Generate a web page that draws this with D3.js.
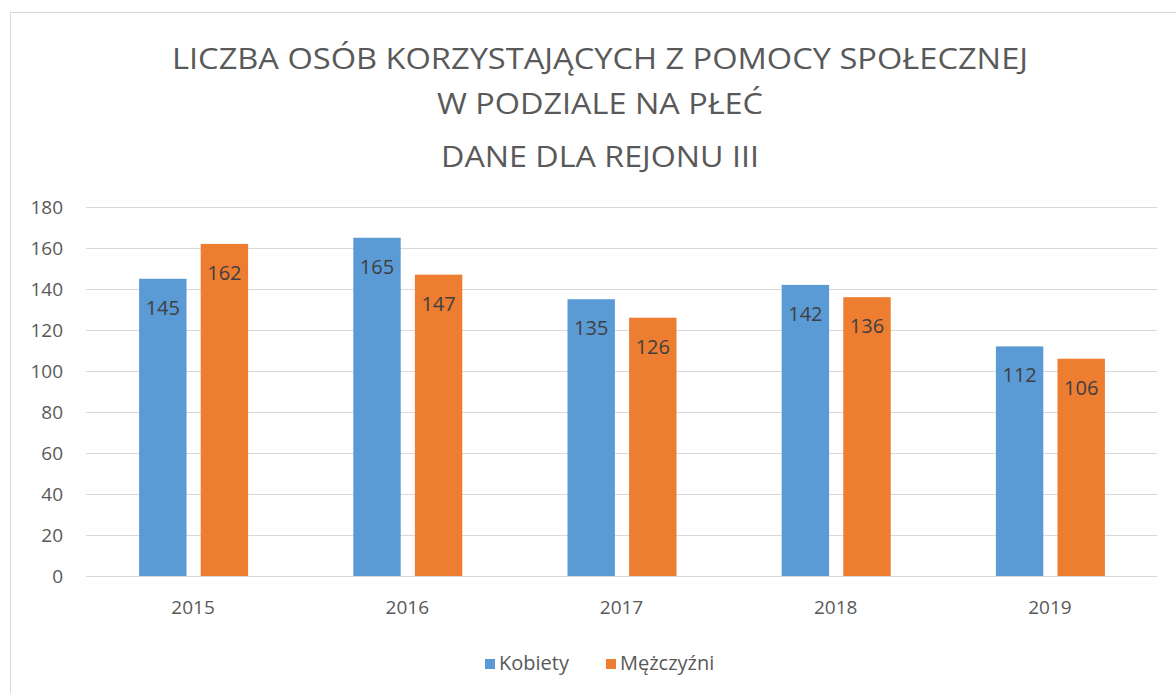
<html>
<head>
<meta charset="utf-8">
<title>Liczba osób korzystających z pomocy społecznej</title>
<style>
  body { margin: 0; background: #fff; }
  text { font-family: "Open Sans", "Noto Sans", sans-serif; }
</style>
<script src="https://d3js.org/d3.v7.min.js"></script>
</head>
<body>
<svg width="1176" height="693"></svg>
<script>
var years = ["2015", "2016", "2017", "2018", "2019"];
var kobiety = [145, 165, 135, 142, 112];
var mezczyzni = [162, 147, 126, 136, 106];
var seriesNames = ["Kobiety", "Mężczyźni"];
var colors = ["#5b9bd5", "#ed7d31"];
var titleLines = ["LICZBA OSÓB KORZYSTAJĄCYCH Z POMOCY SPOŁECZNEJ", "W PODZIALE NA PŁEĆ", "DANE DLA REJONU III"];
var yTicks = [0, 20, 40, 60, 80, 100, 120, 140, 160, 180];

var svg = d3.select("svg");
var margin = {top: 207, right: 19, bottom: 117, left: 86};
var width = 1176 - margin.left - margin.right,
    height = 693 - margin.top - margin.bottom;

// chart border
svg.append("rect")
  .attr("x", 10.5).attr("y", 12.5)
  .attr("width", 1180).attr("height", 700)
  .attr("fill", "none").attr("stroke", "#d9d9d9");

// title (3 lines, stretched to match the original widths)
var titleY = [69, 114, 167];
var titleW = [856, 326, 318];
svg.selectAll(".title")
  .data(titleLines)
  .enter().append("text")
    .attr("class", "title")
    .attr("x", 600)
    .attr("y", (d, i) => titleY[i])
    .attr("text-anchor", "middle")
    .attr("textLength", (d, i) => titleW[i])
    .attr("lengthAdjust", "spacingAndGlyphs")
    .attr("fill", "#595959")
    .style("font-size", "30px")
    .text(d => d);

var g = svg.append("g").attr("transform", `translate(${margin.left},${margin.top})`);

var x = d3.scaleBand().domain(years).range([0, width]);
var xInner = d3.scaleBand().domain(seriesNames).range([x.bandwidth() / 2 - 54, x.bandwidth() / 2 + 55]).paddingInner(0.23);
var y = d3.scaleLinear().domain([0, 180]).range([height, 0]);

// gridlines
g.selectAll(".grid")
  .data(yTicks)
  .enter().append("line")
    .attr("x1", 0).attr("x2", width)
    .attr("y1", d => Math.round(y(d)) + 0.5)
    .attr("y2", d => Math.round(y(d)) + 0.5)
    .attr("stroke", "#d9d9d9");

// y axis labels
var yAxis = g.append("g").call(d3.axisLeft(y).tickValues(yTicks).tickSize(0).tickPadding(23));
yAxis.select(".domain").remove();
yAxis.selectAll("text")
  .attr("fill", "#595959")
  .style("font-size", "19px")
  .style("font-family", "'Open Sans', sans-serif");

// x axis labels
var xAxis = g.append("g")
  .attr("transform", `translate(0,${height})`)
  .call(d3.axisBottom(x).tickSize(0).tickPadding(25));
xAxis.select(".domain").remove();
xAxis.selectAll("text")
  .attr("fill", "#595959")
  .style("font-size", "19px")
  .style("font-family", "'Open Sans', sans-serif");

var data = years.map((yr, i) => ({year: yr, values: [
  {name: seriesNames[0], value: kobiety[i]},
  {name: seriesNames[1], value: mezczyzni[i]}
]}));

var groups = g.selectAll(".grp")
  .data(data)
  .enter().append("g")
    .attr("class", "grp")
    .attr("transform", d => `translate(${x(d.year)},0)`);

groups.selectAll("rect")
  .data(d => d.values)
  .enter().append("rect")
    .attr("x", d => xInner(d.name))
    .attr("y", d => y(d.value))
    .attr("width", xInner.bandwidth())
    .attr("height", d => height - y(d.value))
    .attr("fill", (d, i) => colors[i]);

groups.selectAll(".lbl")
  .data(d => d.values)
  .enter().append("text")
    .attr("class", "lbl")
    .attr("x", d => xInner(d.name) + xInner.bandwidth() / 2)
    .attr("y", d => y(d.value) + 36)
    .attr("text-anchor", "middle")
    .attr("fill", "#404040")
    .style("font-size", "20px")
    .text(d => d.value);

// legend
var legend = svg.append("g").attr("transform", "translate(0,670)");
var legendX = [485, 606];
seriesNames.forEach(function(name, i) {
  legend.append("rect")
    .attr("x", legendX[i]).attr("y", -11)
    .attr("width", 10).attr("height", 10)
    .attr("fill", colors[i]);
  legend.append("text")
    .attr("x", legendX[i] + 14).attr("y", 0)
    .attr("fill", "#595959")
    .style("font-size", "20px")
    .text(name);
});
</script>
</body>
</html>
